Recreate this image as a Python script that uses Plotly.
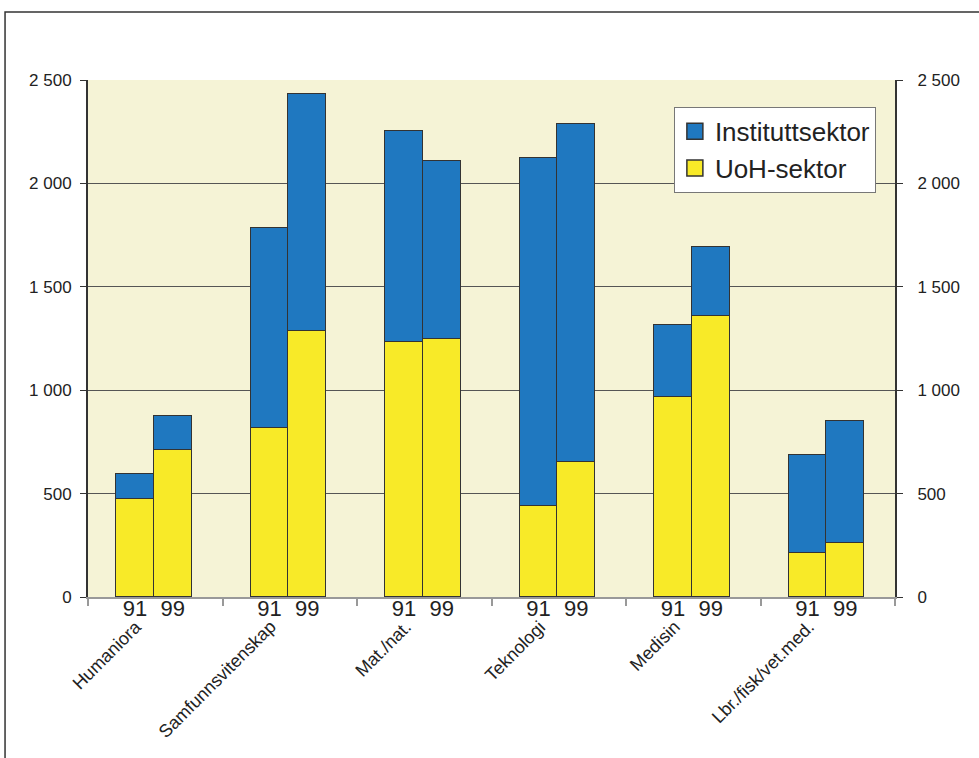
import plotly.graph_objects as go

categories = ["Humaniora", "Samfunnsvitenskap", "Mat./nat.", "Teknologi", "Medisin", "Lbr./fisk/vet.med."]
years = ["91", "99"]
uoh_91 = [474, 816, 1233, 440, 967, 213]
uoh_99 = [712, 1286, 1248, 653, 1359, 261]
inst_91 = [119, 969, 1019, 1685, 348, 474]
inst_99 = [163, 1146, 860, 1634, 334, 590]
y_ticks = [0, 500, 1000, 1500, 2000, 2500]

BLUE = "#1f78c0"
YELLOW = "#f8ea28"
BG = "#f5f3d6"
FONT = "Liberation Sans, Arial, sans-serif"

offsets = [-0.14, 0.14]
xs, uoh_vals, inst_vals, xlabels = [], [], [], []
for i in range(len(categories)):
    for j, yr in enumerate(years):
        xs.append(i + 0.49 + offsets[j])
        xlabels.append(yr)
    uoh_vals += [uoh_91[i], uoh_99[i]]
    inst_vals += [inst_91[i], inst_99[i]]

fig = go.Figure()
fig.add_trace(go.Bar(x=xs, y=uoh_vals, name="UoH-sektor", width=0.28, showlegend=False,
                     marker=dict(color=YELLOW, line=dict(color="#333333", width=1.5))))
fig.add_trace(go.Bar(x=xs, y=inst_vals, name="Instituttsektor", width=0.28, showlegend=False,
                     marker=dict(color=BLUE, line=dict(color="#333333", width=1.5))))
# legend entries
for name, col in [("Instituttsektor", BLUE), ("UoH-sektor", YELLOW)]:
    fig.add_trace(go.Scatter(x=[None], y=[None], mode="markers", name=name,
                             marker=dict(symbol="square", size=17, color=col,
                                         line=dict(color="#333333", width=1.5))))

annotations = []
for i, c in enumerate(categories):
    annotations.append(dict(x=i + 0.45, y=-0.033, xref="x", yref="paper", text=c,
                            showarrow=False, textangle=-45, xanchor="right", yanchor="top",
                            font=dict(family=FONT, size=18, color="#222222")))

fig.update_layout(
    width=979, height=758,
    margin=dict(l=88, r=84, t=80, b=161),
    paper_bgcolor="white", plot_bgcolor=BG,
    barmode="stack", bargap=0,
    separators=", ",
    font=dict(family=FONT, color="#222222"),
    showlegend=True,
    legend=dict(x=0.726, y=0.948, xanchor="left", yanchor="top",
                bgcolor="white", bordercolor="#777777", borderwidth=1,
                traceorder="normal", font=dict(family=FONT, size=26, color="#222222"),
                itemwidth=30, itemsizing="trace"),
    xaxis=dict(range=[0, len(categories)], tickvals=xs, ticktext=xlabels, ticks="",
               tickfont=dict(size=22, family=FONT, color="#222222"), ticklabelstandoff=-9,
               showgrid=False, zeroline=False, showline=True, linecolor="#999999", linewidth=1.5,
               minor=dict(tickvals=list(range(len(categories) + 1)), ticks="outside", ticklen=7,
                          tickcolor="#999999", tickwidth=1.5, showgrid=False)),
    yaxis=dict(range=[0, 2500], tickvals=y_ticks, tickformat=",d", ticks="outside", ticklen=6,
               tickcolor="#333333", tickwidth=1.2, ticklabelstandoff=5,
               tickfont=dict(size=17, family=FONT, color="#222222"),
               showgrid=True, gridcolor="#555555", gridwidth=1.2, zeroline=False,
               showline=True, linecolor="#333333", linewidth=2),
    yaxis2=dict(range=[0, 2500], tickvals=y_ticks, tickformat=",d", overlaying="y", side="right",
                ticks="outside", ticklen=6, tickcolor="#333333", tickwidth=1.2, ticklabelstandoff=11,
                tickfont=dict(size=17, family=FONT, color="#222222"),
                showgrid=False, zeroline=False, showline=True, linecolor="#333333", linewidth=2),
    annotations=annotations,
    shapes=[dict(type="rect", xref="paper", yref="paper", x0=-0.1028, x1=1.12, y0=-0.34, y1=1.1315,
                 line=dict(color="#333333", width=1.5), fillcolor="rgba(0,0,0,0)", layer="below")],
)
# invisible trace to show right axis
fig.add_trace(go.Scatter(x=[0.5], y=[0], yaxis="y2", mode="markers", marker=dict(opacity=0),
                         showlegend=False, hoverinfo="skip"))

fig.write_html("out.html")
